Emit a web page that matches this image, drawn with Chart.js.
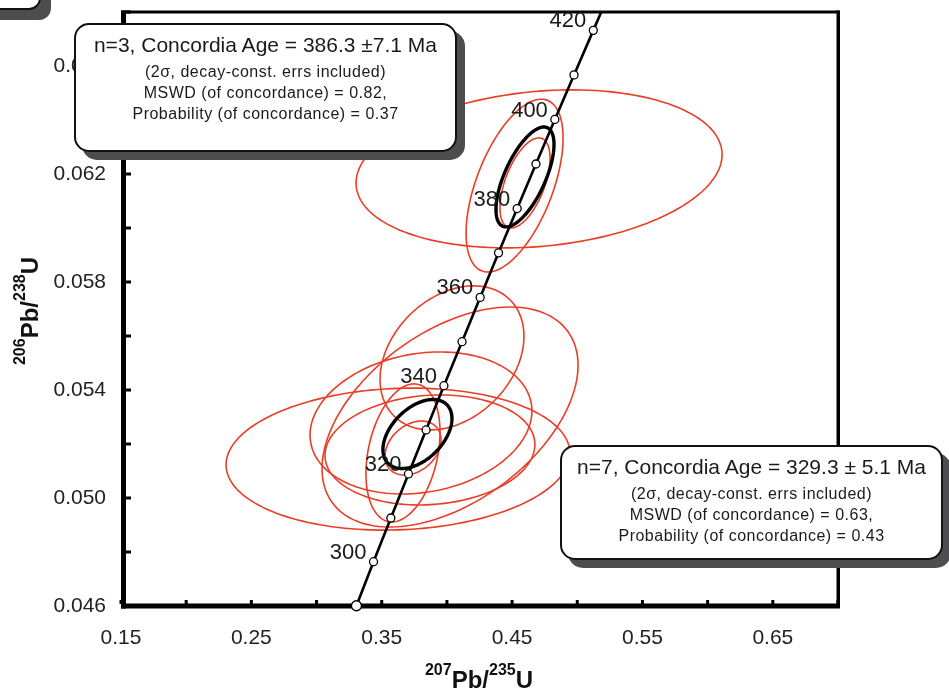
<!DOCTYPE html>
<html>
<head>
<meta charset="utf-8">
<script src="https://cdn.jsdelivr.net/npm/chart.js@4.4.1/dist/chart.umd.min.js"></script>
<style>
  body { margin: 0; background: #fff; }
  #wrap { position: relative; width: 949px; height: 689px; overflow: hidden; font-family: "Liberation Sans", Arial, sans-serif; color: #1a1a1a; }
  #chart { position: absolute; left: 0; top: 0; }
  .box { position: absolute; box-sizing: border-box; width: 383px; background: #fff; border: 2px solid #111; border-radius: 15px; box-shadow: 8px 8px 0 #4d4d4f; text-align: center; padding-top: 7px; }
  .box .big { font-size: 21px; line-height: 26px; height: 26px; white-space: nowrap; }
  .box .small { font-size: 16px; line-height: 21px; letter-spacing: 0.5px; margin-top: 3px; white-space: nowrap; }
  .frag { position: absolute; left: -30px; top: -30px; width: 71px; height: 40px; box-sizing: border-box; border: 2px solid #111; border-radius: 12px; background: #fff; box-shadow: 10px 10px 0 #4d4d4f; }
  .title { position: absolute; width: 200px; height: 30px; line-height: 30px; font-size: 24px; font-weight: bold; text-align: center; white-space: nowrap; color: #111; }
  .title span { font-size: 16px; position: relative; top: -13px; }
</style>
</head>
<body>
<div id="wrap">
  <canvas id="chart" width="949" height="689"></canvas>
  <div class="frag"></div>
  <div class="box" style="left:74px; top:23px; height:129px;">
    <div class="big">n=3, Concordia Age = 386.3 ±7.1 Ma</div>
    <div class="small">
      <div>(2σ, decay-const. errs included)</div>
      <div>MSWD (of concordance) = 0.82,</div>
      <div>Probability (of concordance) = 0.37</div>
    </div>
  </div>
  <div class="box" style="left:560px; top:445px; height:115px;">
    <div class="big">n=7, Concordia Age = 329.3 ± 5.1 Ma</div>
    <div class="small">
      <div>(2σ, decay-const. errs included)</div>
      <div>MSWD (of concordance) = 0.63,</div>
      <div>Probability (of concordance) = 0.43</div>
    </div>
  </div>
  <div class="title" style="left:379px; top:665px;"><span>207</span>Pb/<span>235</span>U</div>
  <div class="title" style="left:-70px; top:296px; transform:rotate(-90deg);"><span>206</span>Pb/<span>238</span>U</div>
</div>
<script>
// concordia curve, age marks every 10 Ma (last point = where the curve leaves the plot)
var concordiaAge = [290, 300, 310, 320, 330, 340, 350, 360, 370, 380, 390, 400, 410, 420, null];
var concordiaX = [0.3306, 0.3437, 0.3570, 0.3705, 0.3840, 0.3977, 0.4116, 0.4255, 0.4396, 0.4539, 0.4683, 0.4828, 0.4975, 0.5123, 0.5184];
var concordiaY = [0.04601, 0.04764, 0.04926, 0.05089, 0.05252, 0.05416, 0.05579, 0.05743, 0.05908, 0.06072, 0.06237, 0.06402, 0.06567, 0.06732, 0.0680];

var xTickLabels = ['0.15', '0.25', '0.35', '0.45', '0.55', '0.65'];
var yTickLabels = ['0.046', '0.050', '0.054', '0.058', '0.062', '0.066'];

// 2 sigma error ellipses of the analyses: centre, half widths, correlation
var ellipseX   = [0.4707, 0.4519, 0.4599, 0.3625, 0.4024, 0.4039, 0.3801, 0.3663, 0.3740, 0.3870];
var ellipseY   = [0.06219, 0.06157, 0.06167, 0.05144, 0.05300, 0.05519, 0.05278, 0.05167, 0.05185, 0.05178];
var ellipseSx  = [0.1404, 0.0372, 0.0192, 0.1319, 0.0982, 0.0552, 0.0851, 0.0284, 0.0215, 0.0805];
var ellipseSy  = [0.002926, 0.0032, 0.001667, 0.00263, 0.004074, 0.002667, 0.00263, 0.002556, 0.0010, 0.002037];
var ellipseRho = [0.18, 0.55, 0.55, 0.08, 0.47, 0.3, 0.17, 0.3, 0.3, 0.1];

// concordia age ellipses
var ageX   = [0.4599, 0.3774];
var ageY   = [0.06189, 0.05237];
var ageSx  = [0.02225, 0.02647];
var ageSy  = [0.00185, 0.001278];
var ageRho = [0.65, 0.45];

var RED = '#ea3d27';

function traceEllipse(ctx, xs, ys, cx, cy, sx, sy, rho) {
    var n = 160;
    var r2 = Math.sqrt(1 - rho * rho);
    ctx.beginPath();
    for (var k = 0; k <= n; k++) {
        var t = 2 * Math.PI * k / n;
        var px = xs.getPixelForValue(cx + sx * Math.cos(t));
        var py = ys.getPixelForValue(cy + sy * (rho * Math.cos(t) + r2 * Math.sin(t)));
        if (k === 0) ctx.moveTo(px, py); else ctx.lineTo(px, py);
    }
    ctx.closePath();
    ctx.stroke();
}

var diagramPlugin = {
    id: 'diagram',
    beforeDatasetsDraw: function (chart) {
        var ctx = chart.ctx, a = chart.chartArea;
        var xs = chart.scales.x, ys = chart.scales.y;
        ctx.save();
        ctx.fillStyle = '#000';
        // frame
        ctx.fillRect(a.left, a.top - 1.5, a.right - a.left + 1.5, 3);
        ctx.fillRect(a.right - 1.5, a.top - 1.5, 3.5, a.bottom - a.top + 2);
        ctx.fillRect(a.left, a.top - 1.5, 5, a.bottom - a.top + 4);
        ctx.fillRect(a.left, a.bottom - 2.5, a.right - a.left + 2, 5);
        // inward ticks
        xs.ticks.forEach(function (t) {
            var px = xs.getPixelForValue(t.value);
            ctx.fillRect(px - 1.5, a.bottom - 6, 3, 4);
        });
        ys.ticks.forEach(function (t) {
            var py = ys.getPixelForValue(t.value);
            ctx.fillRect(a.left + 4, py - 1.5, 6, 3);
        });
        // ellipses
        ctx.strokeStyle = RED;
        ctx.lineWidth = 1.6;
        for (var i = 0; i < ellipseX.length; i++) {
            traceEllipse(ctx, xs, ys, ellipseX[i], ellipseY[i], ellipseSx[i], ellipseSy[i], ellipseRho[i]);
        }
        ctx.strokeStyle = '#000';
        ctx.lineWidth = 3.4;
        for (var j = 0; j < ageX.length; j++) {
            traceEllipse(ctx, xs, ys, ageX[j], ageY[j], ageSx[j], ageSy[j], ageRho[j]);
        }
        ctx.restore();
    },
    afterDatasetsDraw: function (chart) {
        var ctx = chart.ctx;
        var pts = chart.getDatasetMeta(0).data;
        ctx.save();
        ctx.fillStyle = '#1a1a1a';
        ctx.font = '22px "Liberation Sans", Arial, sans-serif';
        ctx.textAlign = 'right';
        ctx.textBaseline = 'middle';
        for (var i = 0; i < concordiaAge.length; i++) {
            if (concordiaAge[i] !== null && concordiaAge[i] % 20 === 0) {
                ctx.fillText(String(concordiaAge[i]), pts[i].x - 7, pts[i].y - 9);
            }
        }
        ctx.restore();
    }
};

var points = [];
var radii = [];
for (var i = 0; i < concordiaX.length; i++) {
    points.push({ x: concordiaX[i], y: concordiaY[i] });
    radii.push(concordiaAge[i] === null ? 0 : (i === 0 ? 5 : 4));
}

Chart.defaults.font.family = '"Liberation Sans", Arial, sans-serif';

var chart = new Chart(document.getElementById('chart').getContext('2d'), {
    type: 'scatter',
    data: {
        datasets: [{
            label: 'Concordia',
            data: points,
            showLine: true,
            borderColor: '#000',
            borderWidth: 2.6,
            pointRadius: radii,
            pointBackgroundColor: '#fff',
            pointBorderColor: '#000',
            pointBorderWidth: 1.3,
            tension: 0,
            clip: false
        }]
    },
    options: {
        responsive: false,
        animation: false,
        devicePixelRatio: 1,
        layout: { padding: { top: 12, right: 111, left: 0, bottom: 0 } },
        plugins: { legend: { display: false }, tooltip: { enabled: false } },
        scales: {
            x: {
                type: 'linear',
                min: 0.15,
                max: 0.70,
                afterFit: function (s) { s.height = 83; s.paddingLeft = 0; s.paddingRight = 0; },
                grid: { display: false, drawTicks: false },
                border: { display: false },
                ticks: {
                    stepSize: 0.05,
                    autoSkip: false,
                    maxRotation: 0,
                    padding: 20,
                    color: '#222',
                    font: { size: 21 },
                    callback: function (v, idx) {
                        return idx % 2 === 0 && idx / 2 < xTickLabels.length ? xTickLabels[idx / 2] : '';
                    }
                }
            },
            y: {
                type: 'linear',
                min: 0.046,
                max: 0.068,
                afterFit: function (s) { s.width = 121; s.paddingTop = 0; s.paddingBottom = 0; },
                grid: { display: false, drawTicks: false },
                border: { display: false },
                ticks: {
                    stepSize: 0.002,
                    autoSkip: false,
                    padding: 15,
                    color: '#222',
                    font: { size: 21 },
                    callback: function (v, idx) {
                        return idx % 2 === 0 && idx / 2 < yTickLabels.length ? yTickLabels[idx / 2] : '';
                    }
                }
            }
        }
    },
    plugins: [diagramPlugin]
});
</script>
</body>
</html>
